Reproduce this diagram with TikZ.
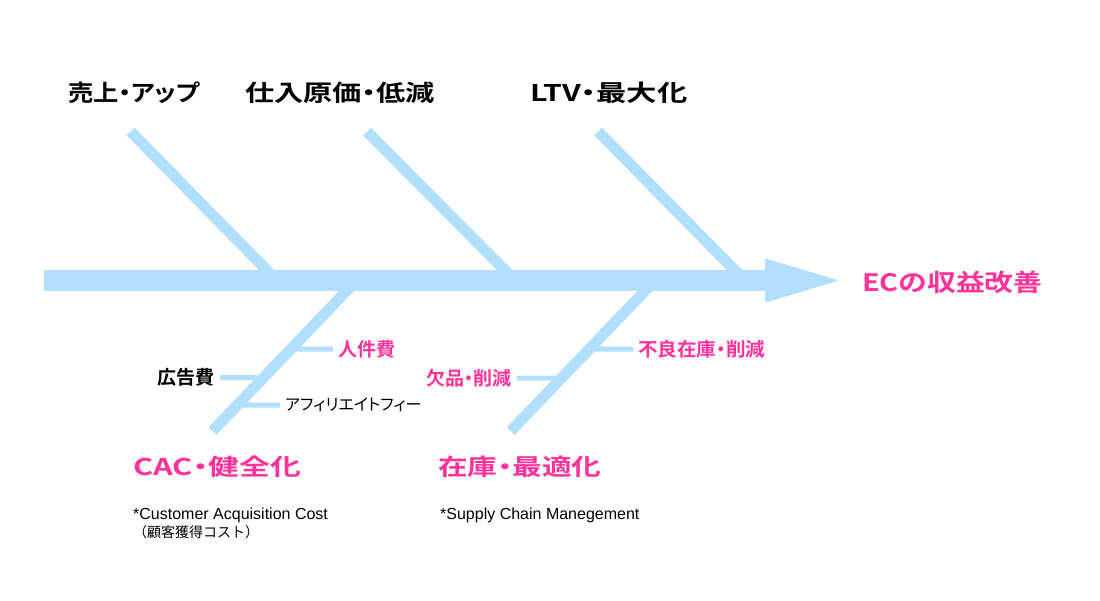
\documentclass[tikz,border=0pt]{standalone}
\usepackage{fontspec}
\usepackage{graphicx}
\usepackage{tikz}
\usetikzlibrary{positioning,calc}
\newfontfamily\jpfont{Noto Sans CJK JP}[RawFeature=+palt,BoldFont={Noto Sans CJK JP Bold}]
\newfontfamily\jpfull{Noto Sans CJK JP}
\newfontfamily\notefont{Liberation Sans}
\definecolor{bonecol}{HTML}{B3DFFF}
\definecolor{hotpink}{HTML}{FF3399}
\newcommand{\wide}[2]{\scalebox{#1}[1]{#2}}
\tikzset{
  spine/.style={draw=bonecol, line width=21pt},
  bone/.style={draw=bonecol, line width=11pt},
  twig/.style={draw=bonecol, line width=5pt},
  ttl/.style={text=#1, font=\jpfont\bfseries\fontsize{23}{23}\selectfont,
              inner sep=0pt, anchor=west},
  lbl/.style={text=#1, font=\jpfont\bfseries\fontsize{19}{19}\selectfont,
              inner xsep=5pt, inner ysep=0pt},
  note/.style={font=\notefont\fontsize{16}{18}\selectfont, align=left,
               inner sep=0pt, anchor=west},
}

\begin{document}
\begin{tikzpicture}[x=1pt,y=-1pt]
  \useasboundingbox (0,0) rectangle (1100,600);

  % spine and head
  \coordinate (tail) at (44,280.5);
  \coordinate (neck) at (765,280.5);
  \coordinate (tip)  at (839,280.5);

  % upper bones
  \coordinate (u1) at (130.5,131.5); \coordinate (u1s) at (277,280.5);
  \coordinate (u2) at (367,131.5);   \coordinate (u2s) at (515,280.5);
  \coordinate (u3) at (598,131.5);   \coordinate (u3s) at (745,280.5);
  \draw[bone] (u1) -- (u1s);
  \draw[bone] (u2) -- (u2s);
  \draw[bone] (u3) -- (u3s);

  % lower bones
  \coordinate (cacB) at (212.5,431); \coordinate (cacT) at (356.5,280.5);
  \coordinate (invB) at (510.8,431); \coordinate (invT) at (655,280.5);
  \draw[bone] (cacB) -- (cacT);
  \draw[bone] (invB) -- (invT);

  \draw[spine] (tail) -- (neck);
  \fill[bonecol] ($(neck)+(0,-22.2)$) -- (tip) -- ($(neck)+(0,22.2)$) -- cycle;

  % titles
  \node[ttl=black] (uri)  at (68,93)   {\wide{1.1}{売上・アップ}};
  \node[ttl=black] (shi)  at (245,93)  {\wide{1.27}{仕入原価・低減}};
  \node[ttl=black] (ltv)  at (530,93)  {\wide{1.32}{LTV・最大化}};
  \node[ttl=hotpink, font=\jpfont\bfseries\fontsize{24}{24}\selectfont] (goal) at (862,282) {\wide{1.2}{ECの収益改善}};
  \node[ttl=hotpink] (cac) at (133,467) {\wide{1.34}{CAC・健全化}};
  \node[ttl=hotpink] (inv) at (438,467) {\wide{1.29}{在庫・最適化}};

  % twigs with labels
  \node[lbl=hotpink, anchor=west] (jinken)  at (333,349)   {人件費};
  \node[lbl=black, anchor=east]   (koukoku) at (220,377.5) {広告費};
  \node[lbl=black, anchor=west, font=\jpfont\fontsize{16}{16}\selectfont] (afi) at (280,405) {アフィリエイトフィー};
  \node[lbl=hotpink, anchor=east] (keppin)  at (517,378)   {欠品・削減};
  \node[lbl=hotpink, anchor=west] (furyo)   at (633,349)   {\wide{1.03}{不良在庫・削減}};

  \draw[twig] (jinken.west)  -- (intersection of cacB--cacT and jinken.west--jinken.east);
  \draw[twig] (koukoku.east) -- (intersection of cacB--cacT and koukoku.west--koukoku.east);
  \draw[twig] (afi.west)     -- (intersection of cacB--cacT and afi.west--afi.east);
  \draw[twig] (keppin.east)  -- (intersection of invB--invT and keppin.west--keppin.east);
  \draw[twig] (furyo.west)   -- (intersection of invB--invT and furyo.west--furyo.east);

  % notes
  \node[note] (cacnote) at (133,523) {*Customer Acquisition Cost\\{\jpfull\fontsize{14}{17}\selectfont （顧客獲得コスト）}};
  \node[note, anchor=west] (invnote) at (440,515) {*Supply Chain Manegement};
\end{tikzpicture}
\end{document}
